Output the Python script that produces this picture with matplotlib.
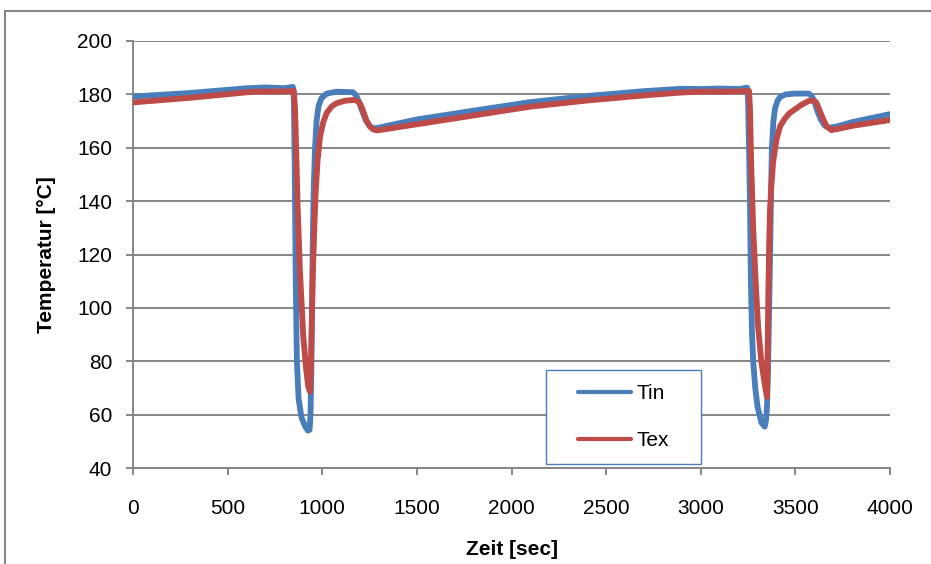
import matplotlib.pyplot as plt
from matplotlib.patches import Rectangle

plt.rcParams['font.family'] = ['Liberation Sans', 'DejaVu Sans']

# Tin (blue) - time [s], temperature [degC]
t_in = [0, 300, 600, 700, 800, 845, 850, 855, 860, 866, 875, 890, 910, 925, 933, 938, 942,
        946, 950, 955, 962, 970, 980, 995, 1023, 1076, 1163, 1180, 1195, 1210, 1230, 1250,
        1270, 1290, 1500, 1800, 2100, 2400, 2700, 2900, 3000, 3100, 3200, 3245, 3250, 3255,
        3260, 3265, 3271, 3277, 3288, 3300, 3320, 3338, 3345, 3350, 3355, 3360, 3366, 3371,
        3376, 3384, 3392, 3405, 3419, 3450, 3500, 3570, 3585, 3600, 3615, 3635, 3655, 3680,
        3720, 3800, 3900, 4000]
T_in = [179.2, 180.5, 182.3, 182.6, 182.3, 182.8, 178, 150, 110, 80, 66, 59, 55.5, 54,
        54.3, 60, 75, 100, 125, 145, 160, 170, 175.5, 178.5, 180.3, 181, 180.8, 179.5, 177,
        174, 170.3, 168.2, 167.3, 167.4, 170.6, 173.9, 177.1, 179.4, 181.2, 182.1, 182,
        182.2, 182, 182.5, 178, 160, 140, 110, 90, 80, 70, 63, 57, 55.5, 58, 63, 75, 95,
        118, 142, 160, 170, 174.5, 177.5, 179, 180, 180.3, 180.3, 179.5, 177.5, 174, 170.5,
        168.3, 167.5, 168, 169.6, 171.1, 172.6]

# Tex (red)
t_ex = [0, 300, 635, 800, 850, 856, 862, 870, 882, 900, 915, 926, 935, 940, 945, 950, 958,
        965, 975, 988, 1005, 1023, 1050, 1076, 1120, 1163, 1185, 1200, 1215, 1235, 1252,
        1270, 1290, 1320, 1500, 1800, 2100, 2400, 2700, 2900, 3000, 3100, 3200, 3255, 3260,
        3266, 3277, 3290, 3303, 3320, 3340, 3350, 3353, 3356, 3361, 3366, 3373, 3383, 3400,
        3419, 3445, 3470, 3530, 3570, 3595, 3610, 3625, 3645, 3665, 3690, 3720, 3800, 3900,
        4000]
T_ex = [177, 178.7, 181, 181.1, 181.3, 175, 160, 138, 114, 89, 77, 70.5, 68.6, 78, 95, 112,
        130, 143, 155, 164, 169.5, 173, 175.5, 176.7, 177.6, 177.9, 177.6, 176.5, 174, 170,
        167.9, 166.8, 166.5, 166.8, 168.8, 172.1, 175.4, 177.7, 179.6, 180.7, 181, 181,
        181.1, 181.3, 175, 155, 130, 110, 93, 80, 70.5, 66.6, 80, 100, 122, 136.7, 146, 155,
        163, 168, 171, 173, 176, 177.5, 177.7, 177, 174.5, 171, 168, 166.6, 167, 168.2,
        169.3, 170.4]

fig = plt.figure(figsize=(9.31, 5.64), dpi=100)
ax = fig.add_axes([133 / 931, 1 - 468 / 564, 757 / 931, 427 / 564])

grey = '#868686'
ax.plot(t_in, T_in, color='#4A7EBB', lw=4.2, label='Tin', solid_joinstyle='round',
        solid_capstyle='round', zorder=3)
ax.plot(t_ex, T_ex, color='#BE4B48', lw=4.2, label='Tex', solid_joinstyle='round',
        solid_capstyle='round', zorder=3)

ax.set_xlim(0, 4000)
ax.set_ylim(40, 200)
ax.set_xticks(range(0, 4001, 500))
ax.set_yticks(range(40, 201, 20))
ax.grid(axis='y', color=grey, lw=1.4)
ax.set_axisbelow(True)
for s in ['top', 'right']:
    ax.spines[s].set_visible(False)
for s in ['left', 'bottom']:
    ax.spines[s].set_color(grey)
    ax.spines[s].set_linewidth(1.4)
ax.tick_params(direction='out', length=5, width=1.4, color=grey, labelsize=15)
ax.tick_params(axis='x', pad=17)
ax.tick_params(axis='y', pad=10)

ax.set_xlabel('Zeit [sec]', fontsize=15, fontweight='bold', labelpad=16)
ax.set_ylabel('Temperatur [°C]', fontsize=15, fontweight='bold', labelpad=15)

# legend box
ax.add_patch(Rectangle((0.5456, 0.0094), 0.2048, 0.2201, transform=ax.transAxes,
                       facecolor='white', edgecolor='#4A7EBB', lw=1.0, zorder=4))
leg = ax.legend(loc='center', bbox_to_anchor=(0.648, 0.1194), frameon=False, fontsize=15,
                handlelength=2.55, handletextpad=0.25, labelspacing=1.35)
leg.set_zorder(5)
for h in leg.get_lines():
    h.set_linewidth(3)

# outer chart border (cropped)
fig.patches.append(Rectangle((4.5 / 931, -0.2), 1.2, 1.2 - 11.5 / 564,
                             transform=fig.transFigure, fill=False, edgecolor=grey, lw=1.5))

fig.savefig('out.png', dpi=100)
